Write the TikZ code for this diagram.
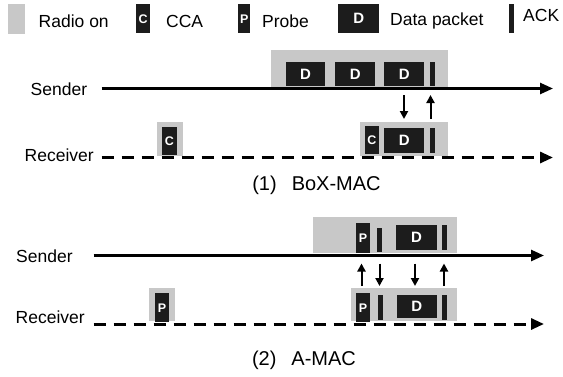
\documentclass[tikz,border=0pt]{standalone}
\usepackage{fontspec}
\setmainfont{Liberation Sans}
\usetikzlibrary{arrows.meta}
\definecolor{radio}{HTML}{C8C8C8}
\definecolor{pk}{HTML}{1C1C1C}
\tikzset{
  radiobox/.style={fill=radio, draw=none, inner sep=0pt, anchor=north west},
  pkbox/.style={fill=pk, draw=none, inner sep=0pt, anchor=north west, text=white, font=\bfseries\fontsize{15}{15}\selectfont},
  smallpk/.style={pkbox, font=\bfseries\fontsize{12.5}{12.5}\selectfont},
  lbl/.style={font=\fontsize{17.5}{19}\selectfont, inner sep=0pt},
  ttl/.style={font=\fontsize{20}{22}\selectfont, inner sep=0pt},
  timeline/.style={line width=2.6pt, -{Triangle[length=13pt,width=11pt]}},
  dashline/.style={timeline, line width=3pt, dash pattern=on 12pt off 8pt},
  msg/.style={line width=2pt, -{Triangle[length=8pt,width=8pt]}}
}
\newcommand{\bx}[7]{\pgfmathsetmacro{\ww}{#4-#2}\pgfmathsetmacro{\hh}{#5-#3}%
  \node[#7, minimum width=\ww pt, minimum height=\hh pt] (#1) at (#2,#3) {#6};}
\begin{document}
\begin{tikzpicture}[x=1pt,y=-1pt]
\useasboundingbox (0,0) rectangle (563,376);
% legend
\bx{lr}{8}{4}{25}{34}{}{radiobox}
\node[lbl, anchor=west] (lrt) at (38.5,21) {Radio on};
\bx{lc}{136}{4}{150}{33}{C}{smallpk}
\node[lbl, anchor=west] (lct) at (166,21) {CCA};
\bx{lp}{238}{4}{250}{33}{P}{smallpk}
\node[lbl, anchor=west] (lpt) at (262,21) {Probe};
\bx{ld}{338}{4}{379}{33}{D}{pkbox}
\node[lbl, anchor=west] (ldt) at (390,21) {Data packet};
\bx{la}{509}{4}{514}{33}{}{pkbox}
\node[lbl, anchor=west] (lat) at (523,15) {ACK};

% ---------- (1) BoX-MAC ----------
\bx{s1r}{271}{50}{448}{87}{}{radiobox}
\bx{s1d1}{285.5}{62}{325}{86}{D}{pkbox}
\bx{s1d2}{335}{62}{375}{86}{D}{pkbox}
\bx{s1d3}{384}{62}{424}{86}{D}{pkbox}
\bx{s1a}{430}{62}{435}{86}{}{pkbox}
\node[lbl, anchor=west] (s1) at (30.5,89) {Sender};
\coordinate (s1s) at (101.5,88.5);
\coordinate (s1e) at (553,88.5);
\draw[timeline] (s1s) -- (s1e);

\bx{r1c0r}{157}{122}{183}{156}{}{radiobox}
\bx{r1c0}{161.5}{127}{177}{155}{C}{smallpk}
\bx{r1r}{360}{122}{448}{156}{}{radiobox}
\bx{r1c}{364.5}{126}{379}{154}{C}{smallpk}
\bx{r1d}{384}{128}{424}{153}{D}{pkbox}
\bx{r1a}{430}{128}{435}{153}{}{pkbox}
\node[lbl, anchor=west] (r1) at (24.5,155) {Receiver};
\coordinate (r1s) at (101.5,157.5);
\coordinate (r1e) at (553,157.5);
\draw[dashline] (r1s) -- (r1e);

\coordinate (m1a) at (404,95); \coordinate (m1b) at (404,119);
\coordinate (m2a) at (430.5,119); \coordinate (m2b) at (430.5,95);
\draw[msg] (m1a) -- (m1b);
\draw[msg] (m2a) -- (m2b);
\node[ttl] (t1) at (316.5,185) {(1)\hspace{15pt}BoX-MAC};

% ---------- (2) A-MAC ----------
\bx{s2r}{313}{217}{457}{253}{}{radiobox}
\bx{s2p}{355.5}{223}{370}{252.5}{P}{smallpk}
\bx{s2a1}{377}{227.5}{381.5}{252}{}{pkbox}
\bx{s2d}{396}{225}{436.5}{250}{D}{pkbox}
\bx{s2a2}{441.5}{225}{446.5}{250}{}{pkbox}
\node[lbl, anchor=west] (s2) at (16,256) {Sender};
\coordinate (s2s) at (93.5,255.5);
\coordinate (s2e) at (544,255.5);
\draw[timeline] (s2s) -- (s2e);

\bx{r2p0r}{149}{288}{175}{321}{}{radiobox}
\bx{r2p0}{154.5}{293}{169}{322}{P}{smallpk}
\bx{r2r}{350.5}{288}{457}{321}{}{radiobox}
\bx{r2p}{355.5}{293}{370}{322}{P}{smallpk}
\bx{r2a1}{377.5}{295}{382.5}{320}{}{pkbox}
\bx{r2d}{396.5}{295}{436.5}{318}{D}{pkbox}
\bx{r2a2}{441.5}{295}{447}{320}{}{pkbox}
\node[lbl, anchor=west] (r2) at (15.5,317) {Receiver};
\coordinate (r2s) at (93.5,324);
\coordinate (r2e) at (544,324);
\draw[dashline] (r2s) -- (r2e);

\coordinate (n1a) at (361.5,286); \coordinate (n1b) at (361.5,263.5);
\coordinate (n2a) at (379.5,263.5); \coordinate (n2b) at (379.5,286);
\coordinate (n3a) at (415,263.5); \coordinate (n3b) at (415,286);
\coordinate (n4a) at (444,286); \coordinate (n4b) at (444,263.5);
\draw[msg] (n1a) -- (n1b);
\draw[msg] (n2a) -- (n2b);
\draw[msg] (n3a) -- (n3b);
\draw[msg] (n4a) -- (n4b);
\node[ttl] (t2) at (304,360) {(2)\hspace{15pt}A-MAC};
\end{tikzpicture}
\end{document}
